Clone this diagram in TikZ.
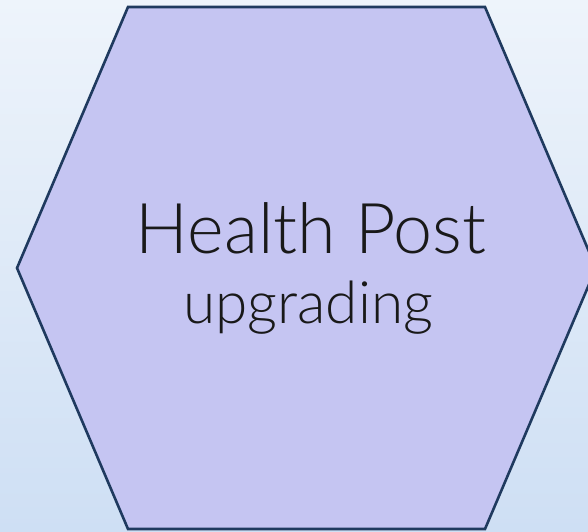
\documentclass[tikz,border=0pt]{standalone}
\usepackage{fontspec}
\setmainfont{Lato Light}
\definecolor{bgtop}{HTML}{EEF4FB}
\definecolor{bgbot}{HTML}{CEDFF4}
\definecolor{hexfill}{HTML}{C5C5F2}
\definecolor{hexline}{HTML}{1F3A5F}
\tikzset{hexbox/.style={fill=hexfill,draw=hexline,line width=2.6pt,line join=miter},
  lbl/.style={text=black!90,inner sep=0pt,anchor=base}}
\begin{document}
\begin{tikzpicture}[x=1pt,y=-1pt]
\useasboundingbox (0,0) rectangle (588,531);
\shade[top color=bgtop,bottom color=bgbot] (0,0) rectangle (588,531);
\begin{scope}
\clip (0,0) rectangle (588,531);
\draw[hexbox] (128,7) -- (485,7) -- (596,268) -- (485,529) -- (128,529) -- (17,268) -- cycle;
\end{scope}
\node[lbl,font=\fontsize{70}{78}\selectfont] (t1) at (311,253) {Health Post};
\node[lbl,font=\fontsize{58.5}{70}\selectfont] (t2) at (308,323) {upgrading};
\end{tikzpicture}
\end{document}
